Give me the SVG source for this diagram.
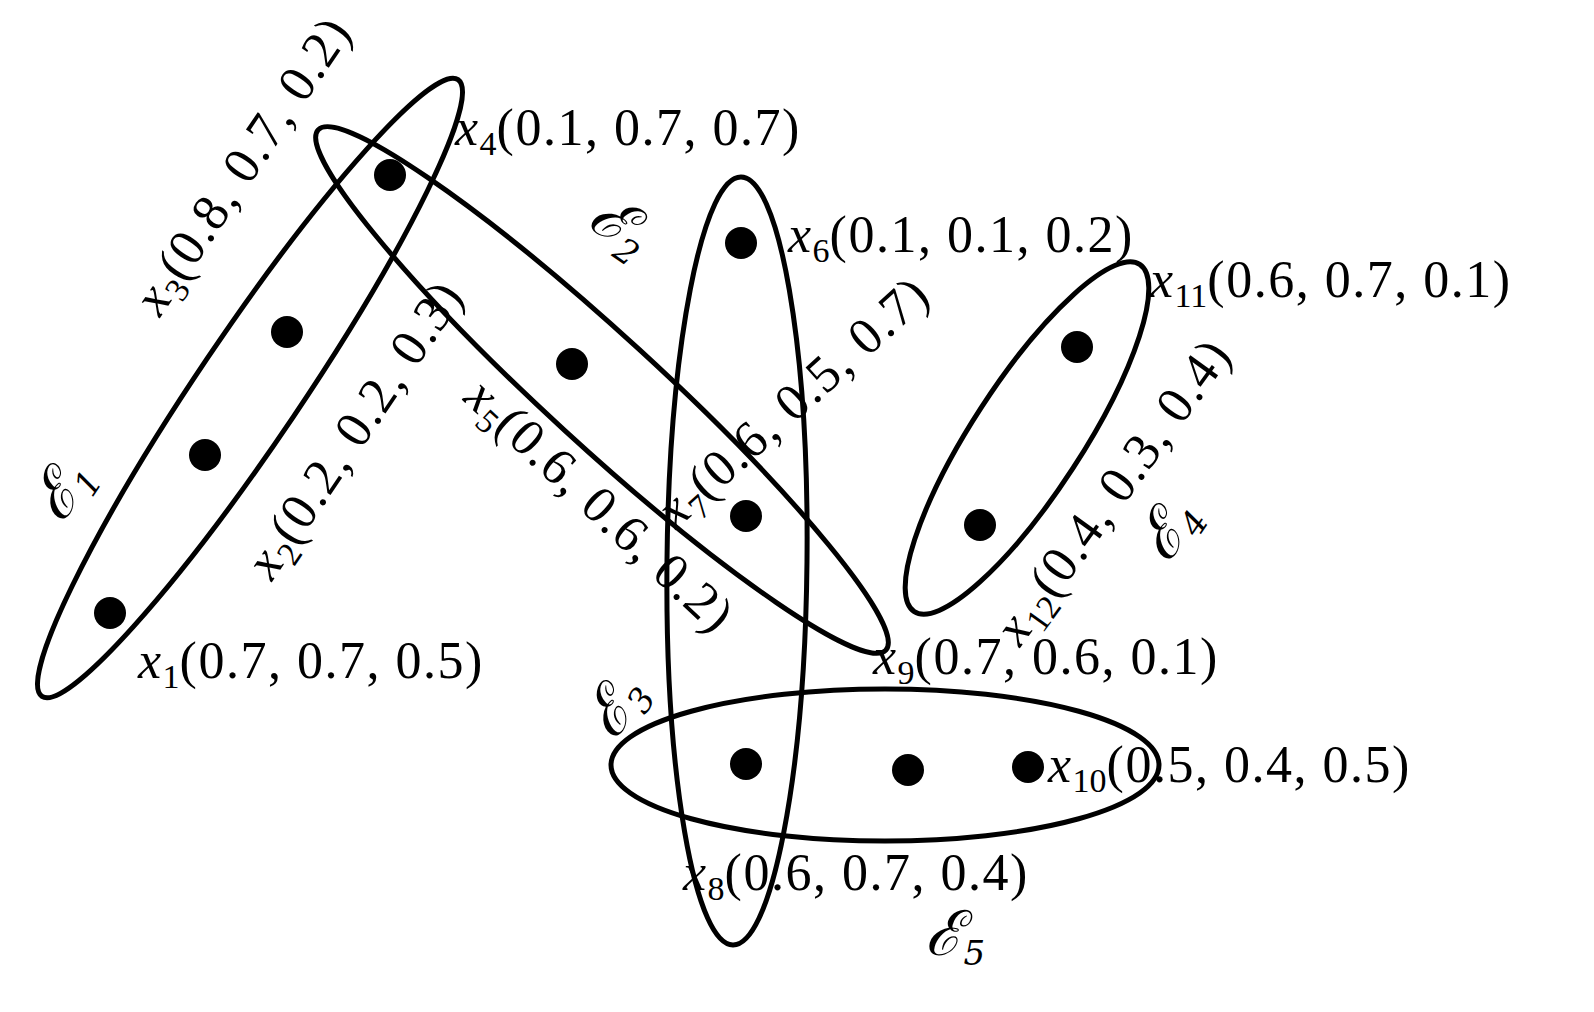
<svg xmlns="http://www.w3.org/2000/svg" width="1594" height="1012" viewBox="0 0 1594 1012">
<style>
.e{fill:none;stroke:#000;stroke-width:5}
.d{fill:#000}
text{font-family:"Liberation Serif",serif;font-size:52px;letter-spacing:1.5px;fill:#000}
.i{font-style:italic}
.s{font-size:34px;letter-spacing:0}
.E{font-family:"DejaVu Serif","Liberation Serif",serif;font-style:italic;font-size:62px}
</style>
<rect width="1594" height="1012" fill="#fff"/>
<g id="edges">
<ellipse id="E1" class="e" cx="250" cy="388" rx="372" ry="52" transform="rotate(-56 250 388)"/>
<ellipse id="E2" class="e" cx="602" cy="390" rx="385" ry="55" transform="rotate(42.5 602 390)"/>
<ellipse id="E3" class="e" cx="737" cy="561" rx="70" ry="384" transform="rotate(0.6 737 561)"/>
<ellipse id="E4" class="e" cx="1027" cy="438" rx="207" ry="55" transform="rotate(-57 1027 438)"/>
<ellipse id="E5" class="e" cx="885" cy="765" rx="274" ry="76"/>
</g>
<g id="nodes">
<circle class="d" cx="110" cy="613" r="16"/>
<circle class="d" cx="205" cy="455" r="16"/>
<circle class="d" cx="287" cy="332" r="16"/>
<circle class="d" cx="390" cy="175" r="16"/>
<circle class="d" cx="572" cy="364" r="16"/>
<circle class="d" cx="741" cy="243" r="16"/>
<circle class="d" cx="746" cy="516" r="16"/>
<circle class="d" cx="746" cy="764" r="16"/>
<circle class="d" cx="908" cy="770" r="16"/>
<circle class="d" cx="1028" cy="767" r="16"/>
<circle class="d" cx="1077" cy="347" r="16"/>
<circle class="d" cx="980" cy="525" r="16"/>
</g>
<g id="labels">
<text x="138" y="678"><tspan class="i">x</tspan><tspan class="s" dy="10">1</tspan><tspan dy="-10">(0.7, 0.7, 0.5)</tspan></text>
<text x="455" y="145"><tspan class="i">x</tspan><tspan class="s" dy="10">4</tspan><tspan dy="-10">(0.1, 0.7, 0.7)</tspan></text>
<text x="788" y="252"><tspan class="i">x</tspan><tspan class="s" dy="10">6</tspan><tspan dy="-10">(0.1, 0.1, 0.2)</tspan></text>
<text x="1150" y="297"><tspan class="i">x</tspan><tspan class="s" dy="10">11</tspan><tspan dy="-10">(0.6, 0.7, 0.1)</tspan></text>
<text x="873" y="674"><tspan class="i">x</tspan><tspan class="s" dy="10">9</tspan><tspan dy="-10">(0.7, 0.6, 0.1)</tspan></text>
<text x="1048" y="782"><tspan class="i">x</tspan><tspan class="s" dy="10">10</tspan><tspan dy="-10">(0.5, 0.4, 0.5)</tspan></text>
<text x="683" y="890"><tspan class="i">x</tspan><tspan class="s" dy="10">8</tspan><tspan dy="-10">(0.6, 0.7, 0.4)</tspan></text>
<text transform="translate(160,318) rotate(-56)"><tspan class="i">x</tspan><tspan class="s" dy="10">3</tspan><tspan dy="-10">(0.8, 0.7, 0.2)</tspan></text>
<text transform="translate(272,582) rotate(-56)"><tspan class="i">x</tspan><tspan class="s" dy="10">2</tspan><tspan dy="-10">(0.2, 0.2, 0.3)</tspan></text>
<text transform="translate(462,400) rotate(43)"><tspan class="i">x</tspan><tspan class="s" dy="10">5</tspan><tspan dy="-10">(0.6, 0.6, 0.2)</tspan></text>
<text transform="translate(676,530) rotate(-42)"><tspan class="i">x</tspan><tspan class="s" dy="10">7</tspan><tspan dy="-10">(0.6, 0.5, 0.7)</tspan></text>
<text transform="translate(1020,648) rotate(-54)"><tspan class="i">x</tspan><tspan class="s" dy="10">12</tspan><tspan dy="-10">(0.4, 0.3, 0.4)</tspan></text>
<text class="E" transform="translate(62,525) rotate(-56)">ℰ<tspan class="s" dy="10">1</tspan></text>
<text class="E" transform="translate(585,225) rotate(35)">ℰ<tspan class="s" dy="10">2</tspan></text>
<text class="E" transform="translate(615,742) rotate(-56)">ℰ<tspan class="s" dy="10">3</tspan></text>
<text class="E" transform="translate(1168,565) rotate(-56)">ℰ<tspan class="s" dy="10">4</tspan></text>
<text class="E" x="925" y="955">ℰ<tspan class="s" dy="10">5</tspan></text>
</g>
</svg>
